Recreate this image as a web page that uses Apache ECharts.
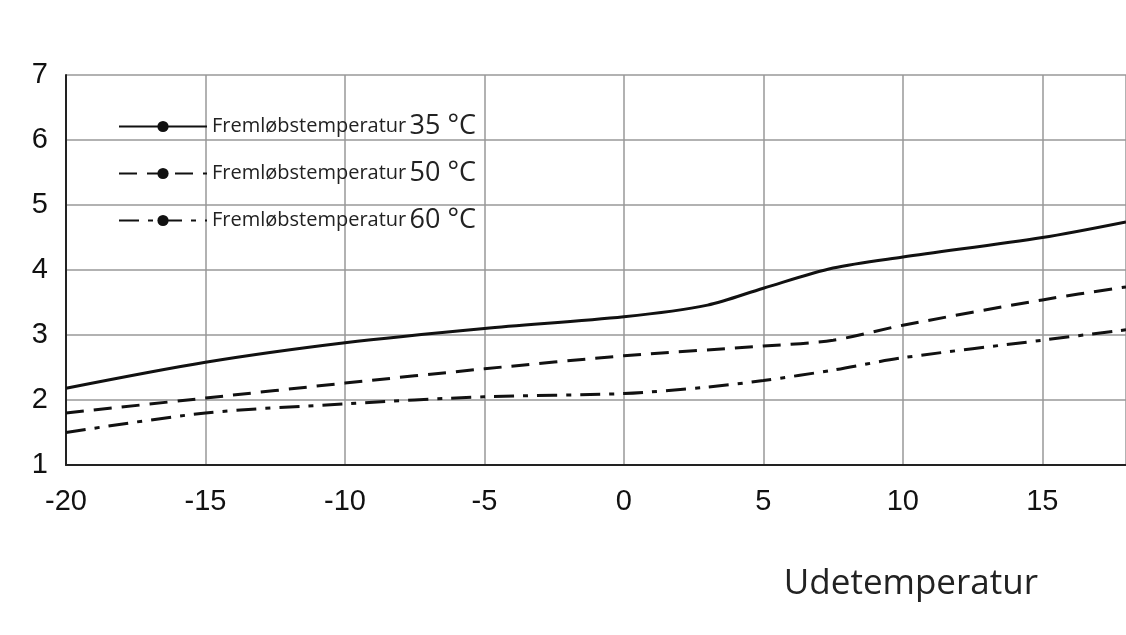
<!DOCTYPE html>
<html><head><meta charset="utf-8">
<script src="https://cdn.jsdelivr.net/npm/echarts@6/dist/echarts.min.js"></script>
<style>html,body{margin:0;background:#fff}#chart{width:1126px;height:635px}</style>
</head><body><div id="chart"></div>
<script>
// aflæste værdier
const names = ['Fremløbstemperatur 35 °C', 'Fremløbstemperatur 50 °C', 'Fremløbstemperatur 60 °C'];
const x35 = [-20, -15, -10, -5, 0, 3, 5, 7.5, 10, 15, 18];
const y35 = [2.18, 2.58, 2.88, 3.1, 3.28, 3.46, 3.72, 4.03, 4.2, 4.5, 4.74];
const x50 = [-20, -15, -10, -5, 0, 5, 7.5, 10, 15, 18];
const y50 = [1.8, 2.03, 2.26, 2.48, 2.68, 2.83, 2.92, 3.15, 3.54, 3.74];
const x60 = [-20, -15, -10, -5, 0, 3, 5, 7.5, 10, 15, 18];
const y60 = [1.5, 1.8, 1.94, 2.05, 2.1, 2.2, 2.3, 2.46, 2.65, 2.92, 3.08];

const pairs = (xs, ys) => xs.map((v, i) => [v, ys[i]]);
const dashes = ['solid', [18, 10], [20, 9, 5, 9]];
const sets = [pairs(x35, y35), pairs(x50, y50), pairs(x60, y60)];

const myChart = echarts.init(document.getElementById('chart'));
myChart.setOption({
    animation: false,
    textStyle: { fontFamily: 'Liberation Sans' },
    grid: { left: 66, right: 0, top: 75, bottom: 170 },
    legend: {
        orient: 'vertical', left: 113, top: 108, itemGap: 20,
        itemWidth: 88, itemHeight: 14,
        data: names,
        formatter: n => {
            const p = n.split(' ');
            return '{a|' + p[0] + '} {b|' + p[1] + ' ' + p[2] + '}';
        },
        textStyle: {
            rich: {
                a: { fontFamily: 'Open Sans', fontSize: 20, color: '#222' },
                b: { fontFamily: 'Open Sans', fontSize: 27, color: '#222' }
            }
        }
    },
    xAxis: {
        type: 'value', min: -20, max: 18, interval: 5,
        name: 'Udetemperatur', nameLocation: 'end', nameGap: 0,
        nameTextStyle: { fontFamily: 'Open Sans', fontSize: 35, color: '#222', align: 'right', verticalAlign: 'top', padding: [102, 88, 0, 0] },
        axisLine: { lineStyle: { color: '#222', width: 2 } },
        axisTick: { show: false },
        axisLabel: { fontSize: 29, color: '#111', margin: 22, showMaxLabel: false },
        splitLine: { lineStyle: { color: '#999', width: 1.5 } }
    },
    yAxis: {
        type: 'value', min: 1, max: 7, interval: 1,
        axisLine: { show: true, onZero: false, lineStyle: { color: '#222', width: 2 } },
        axisTick: { show: false },
        axisLabel: { fontSize: 29, color: '#111', margin: 18 },
        splitLine: { lineStyle: { color: '#999', width: 1.5 } }
    },
    series: sets.map((d, i) => ({
        name: names[i], type: 'line', data: d, smooth: 0.3, symbol: 'none',
        lineStyle: { color: '#111', width: 3, type: dashes[i] },
        itemStyle: { color: '#111' }
    }))
});
</script></body></html>
